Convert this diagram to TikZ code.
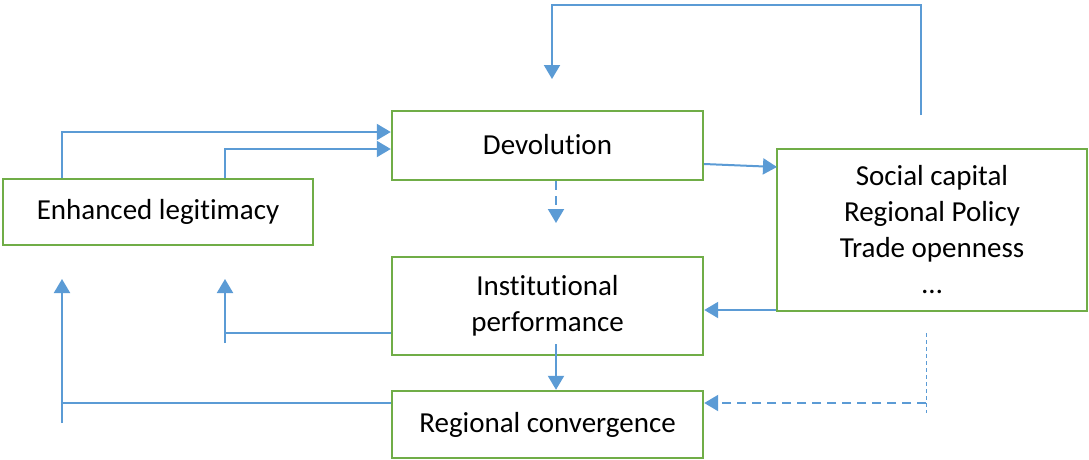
\documentclass[tikz,border=0pt]{standalone}
\usepackage{fontspec}
\setmainfont{Carlito}[RawFeature={-liga;-clig;-calt;-dlig}]
\usetikzlibrary{arrows.meta}
\definecolor{boxgreen}{RGB}{112,173,71}
\definecolor{lineblue}{RGB}{91,155,213}
\tikzset{
  box/.style={draw=boxgreen, line width=2.4pt, align=center, inner sep=0pt,
    font=\fontsize{29}{36}\selectfont},
  thinline/.style={draw=lineblue, line width=1.2pt},
  conn/.style={draw=lineblue, line width=2pt, -{Triangle[length=14pt,width=16pt]}},
  dashconn/.style={conn, dash pattern=on 9pt off 6pt},
  dotline/.style={draw=lineblue, line width=1pt, dash pattern=on 4pt off 3pt},
}
\begin{document}
\begin{tikzpicture}[x=1pt,y=-1pt]
\useasboundingbox (0,0) rectangle (1089,459);
\node[box, minimum width=310pt, minimum height=66pt] (el) at (158,212) {Enhanced legitimacy};
\node[box, minimum width=311pt, minimum height=69pt] (dev) at (547.5,145.5) {\raisebox{3pt}{Devolution}};
\node[box, minimum width=310pt, minimum height=162pt] (soc) at (932,230) {Social capital\\Regional Policy\\Trade openness\\…};
\node[box, minimum width=311pt, minimum height=98pt] (inst) at (547.5,306) {Institutional\\performance};
\node[box, minimum width=311pt, minimum height=67pt] (reg) at (547.5,424.5) {Regional convergence};
% helper coordinates
\coordinate (c62) at (62,132);
\coordinate (c225) at (225,149);
\coordinate (top0) at (921,115);
\coordinate (topc) at (552,5);
\coordinate (toptip) at (552,79);
\coordinate (ds1) at (703,164);
\coordinate (ds2) at (777,167);
\coordinate (dd) at (556,223);
\coordinate (si) at (777,310);
\coordinate (il) at (225,333);
\coordinate (ilb) at (225,343);
\coordinate (iltip) at (225,279);
\coordinate (rl) at (62,403);
\coordinate (rlb) at (62,423);
\coordinate (rltip) at (62,279);
\coordinate (ir) at (556,344);
\coordinate (sv1) at (926,333);
\coordinate (sv2) at (926,413);
\coordinate (sh) at (926,403);
% connectors
\draw[conn] (el.north -| c62) |- (dev.west |- c62);
\draw[conn] (el.north -| c225) |- (dev.west |- c225);
\draw[conn] (top0) |- (topc) -- (toptip);
\draw[conn] (dev.east |- ds1) -- (ds2);
\draw[dashconn] (dev.south -| dd) -- (dd);
\draw[conn] (soc.west |- si) -- (inst.east |- si);
\draw[thinline] (inst.west |- il) -- (il);
\draw[conn] (ilb) -- (iltip);
\draw[thinline] (reg.west |- rl) -- (rl);
\draw[conn] (rlb) -- (rltip);
\draw[conn] (ir) -- (reg.north -| ir);
\draw[dotline] (sv1) -- (sv2);
\draw[dashconn] (sh) -- (reg.east |- sh);
\end{tikzpicture}
\end{document}
